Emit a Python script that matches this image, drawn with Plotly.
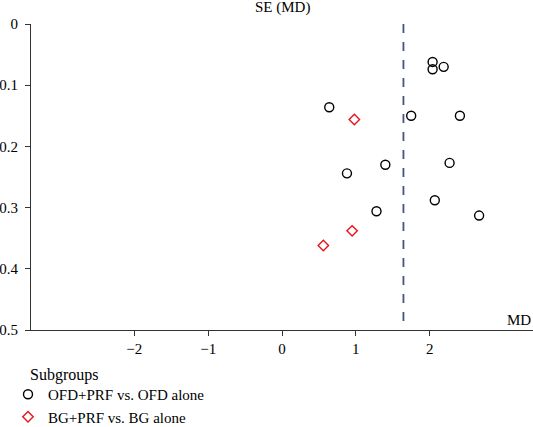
import plotly.graph_objects as go

# Data
ofd_md = [2.04, 2.04, 2.19, 0.64, 1.75, 2.41, 1.40, 0.88, 2.27, 2.07, 1.28, 2.67]
ofd_se = [0.062, 0.074, 0.070, 0.136, 0.150, 0.150, 0.230, 0.244, 0.227, 0.288, 0.306, 0.313]
bg_md = [0.98, 0.95, 0.56]
bg_se = [0.156, 0.338, 0.362]
pooled_md = 1.645
x_ticks = [-2, -1, 0, 1, 2]
x_ticktext = ["\u22122", "\u22121", "0", "1", "2"]
y_ticks = [0, 0.1, 0.2, 0.3, 0.4, 0.5]
y_ticktext = ["0", "0.1", "0.2", "0.3", "0.4", "0.5"]

FONT = "Liberation Serif, DejaVu Serif, serif"
W, H = 533, 427
PLOT_LEFT = 31
PLOT_TOP, PLOT_BOTTOM = 24, 330

fig = go.Figure()
fig.add_trace(go.Scatter(
    x=ofd_md, y=ofd_se, mode="markers", name="OFD+PRF vs. OFD alone",
    marker=dict(symbol="circle-open", size=9, color="black", line=dict(width=1.4)),
))
fig.add_trace(go.Scatter(
    x=bg_md, y=bg_se, mode="markers", name="BG+PRF vs. BG alone",
    marker=dict(symbol="diamond-open", size=8, color="#e8141b", line=dict(width=1.4)),
))
fig.add_shape(type="line", x0=pooled_md, x1=pooled_md, y0=0, y1=0.5,
              xref="x", yref="y", line=dict(color="#4a5285", width=1.8, dash="dash"))

fig.add_annotation(text="SE (MD)", x=0, y=1, xref="x", yref="paper", yanchor="bottom",
                   yshift=6, showarrow=False, font=dict(size=15, color="black", family=FONT))
fig.add_annotation(text="MD", x=1, y=0, xref="paper", yref="paper", xanchor="right",
                   yanchor="bottom", xshift=0, yshift=0, showarrow=False,
                   font=dict(size=15, color="black", family=FONT))
# legend heading
fig.add_annotation(text="Subgroups", x=0,
                   y=(PLOT_BOTTOM - 375) / (PLOT_BOTTOM - PLOT_TOP),
                   xref="paper", yref="paper", xanchor="left", yanchor="middle",
                   xshift=-3, showarrow=False,
                   font=dict(size=16, color="black", family=FONT))

fig.update_xaxes(range=[-3.4, 3.4], tickvals=x_ticks, ticktext=x_ticktext,
                 showgrid=False, zeroline=False, showline=True, linecolor="#333",
                 linewidth=1.2, ticks="outside", ticklen=5, tickcolor="#333",
                 tickfont=dict(size=15, family=FONT, color="black"))
fig.update_yaxes(range=[0.5, 0], tickvals=y_ticks, ticktext=y_ticktext,
                 showgrid=False, zeroline=False, showline=True, linecolor="#333",
                 linewidth=1.2, ticks="outside", ticklen=5, tickcolor="#333",
                 ticklabelstandoff=4,
                 tickfont=dict(size=15, family=FONT, color="black"))

fig.update_layout(
    width=W, height=H,
    margin=dict(l=PLOT_LEFT, r=0, t=PLOT_TOP, b=H - PLOT_BOTTOM, autoexpand=False),
    plot_bgcolor="white", paper_bgcolor="white",
    font=dict(family=FONT, size=15, color="black"),
    legend=dict(
        xref="container", yref="container", x=8 / W, y=1 - 378 / H,
        xanchor="left", yanchor="top", tracegroupgap=0,
        font=dict(size=15, family=FONT), bgcolor="rgba(0,0,0,0)",
    ),
    showlegend=True,
)

fig.write_html("out.html", config={"displayModeBar": False},
               post_script="document.body.style.margin='0';")
